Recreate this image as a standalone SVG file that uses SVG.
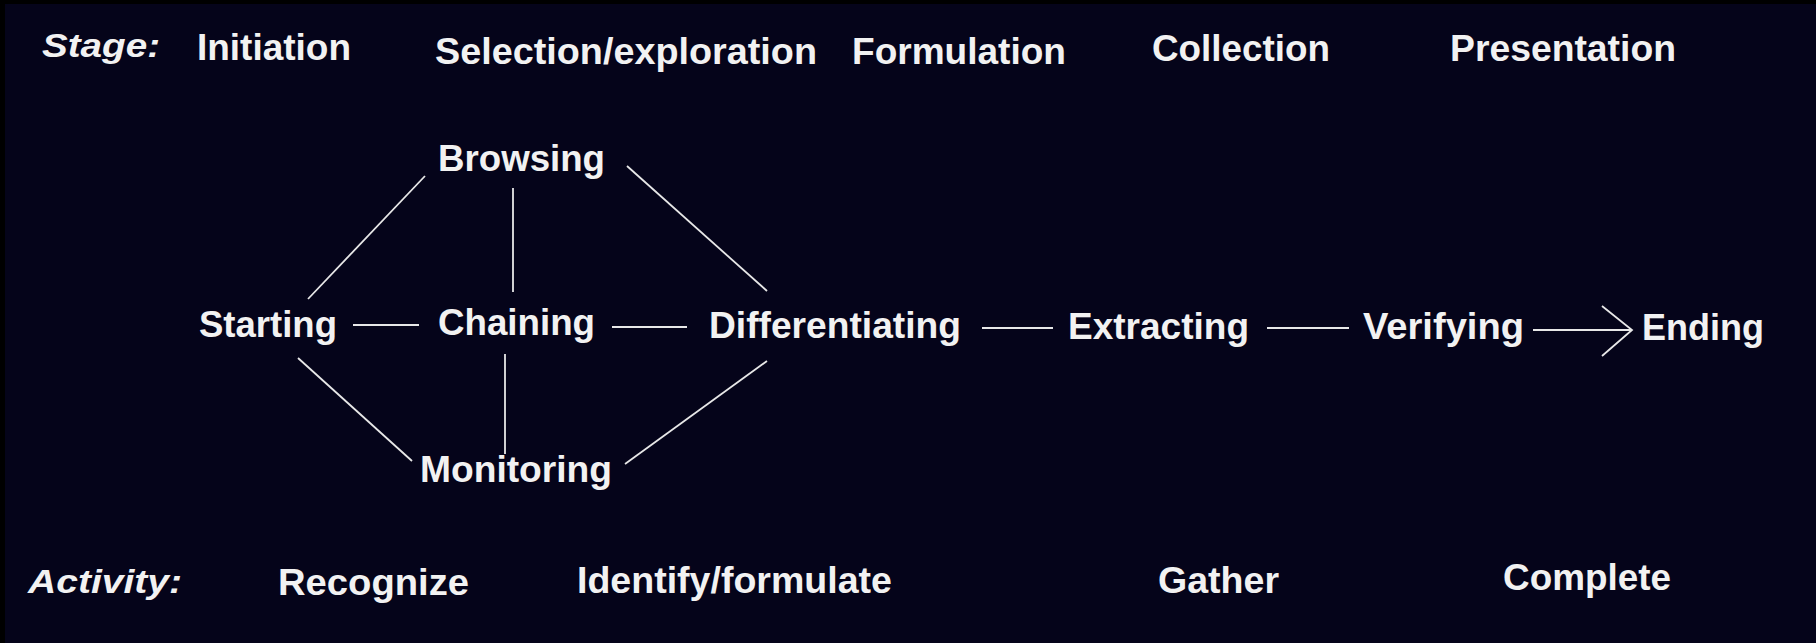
<svg xmlns="http://www.w3.org/2000/svg" width="1816" height="643" viewBox="0 0 1816 643">
<style>
.t{font-family:"Liberation Sans",Arial,sans-serif;font-size:37px;font-weight:bold;fill:#f2f2f2;}
.h{font-style:italic;font-weight:900;font-size:34px;}
.c line,.c polyline{stroke:#e8e8e8;stroke-width:1.8;fill:none;}
</style>
<rect x="0" y="0" width="1816" height="643" fill="#000000"/>
<rect x="5" y="4" width="1811" height="639" fill="#05041a"/>
<g id="stage-header">
<text class="t h" x="42" y="57" textLength="118" lengthAdjust="spacingAndGlyphs">Stage:</text>
<text class="t" x="197" y="60" textLength="154" lengthAdjust="spacingAndGlyphs">Initiation</text>
<text class="t" x="435" y="64" textLength="382" lengthAdjust="spacingAndGlyphs">Selection/exploration</text>
<text class="t" x="852" y="64" textLength="214" lengthAdjust="spacingAndGlyphs">Formulation</text>
<text class="t" x="1152" y="61" textLength="178" lengthAdjust="spacingAndGlyphs">Collection</text>
<text class="t" x="1450" y="61" textLength="226" lengthAdjust="spacingAndGlyphs">Presentation</text>
</g>
<g id="connectors" class="c">
<line x1="308" y1="299" x2="425" y2="176"/>
<line x1="513" y1="188" x2="513" y2="292"/>
<line x1="627" y1="166" x2="767" y2="291"/>
<line x1="353" y1="325" x2="419" y2="325"/>
<line x1="612" y1="327" x2="687" y2="327"/>
<line x1="298" y1="358" x2="412" y2="461"/>
<line x1="505" y1="354" x2="505" y2="454"/>
<line x1="767" y1="361" x2="625" y2="464"/>
<line x1="982" y1="328" x2="1053" y2="328"/>
<line x1="1267" y1="328" x2="1349" y2="328"/>
<line x1="1533" y1="330" x2="1632" y2="330"/>
<polyline points="1602,306 1632,330 1602,356"/>
</g>
<g id="node-browsing"><text class="t" x="438" y="171" textLength="167" lengthAdjust="spacingAndGlyphs">Browsing</text></g>
<g id="node-starting"><text class="t" x="199" y="337" textLength="138" lengthAdjust="spacingAndGlyphs">Starting</text></g>
<g id="node-chaining"><text class="t" x="438" y="335" textLength="157" lengthAdjust="spacingAndGlyphs">Chaining</text></g>
<g id="node-differentiating"><text class="t" x="709" y="338" textLength="252" lengthAdjust="spacingAndGlyphs">Differentiating</text></g>
<g id="node-extracting"><text class="t" x="1068" y="339" textLength="181" lengthAdjust="spacingAndGlyphs">Extracting</text></g>
<g id="node-verifying"><text class="t" x="1363" y="339" textLength="161" lengthAdjust="spacingAndGlyphs">Verifying</text></g>
<g id="node-ending"><text class="t" x="1642" y="340" textLength="122" lengthAdjust="spacingAndGlyphs">Ending</text></g>
<g id="node-monitoring"><text class="t" x="420" y="482" textLength="192" lengthAdjust="spacingAndGlyphs">Monitoring</text></g>
<g id="activity-footer">
<text class="t h" x="28" y="593" textLength="154" lengthAdjust="spacingAndGlyphs">Activity:</text>
<text class="t" x="278" y="595" textLength="191" lengthAdjust="spacingAndGlyphs">Recognize</text>
<text class="t" x="577" y="593" textLength="315" lengthAdjust="spacingAndGlyphs">Identify/formulate</text>
<text class="t" x="1158" y="593" textLength="121" lengthAdjust="spacingAndGlyphs">Gather</text>
<text class="t" x="1503" y="590" textLength="168" lengthAdjust="spacingAndGlyphs">Complete</text>
</g>
</svg>
